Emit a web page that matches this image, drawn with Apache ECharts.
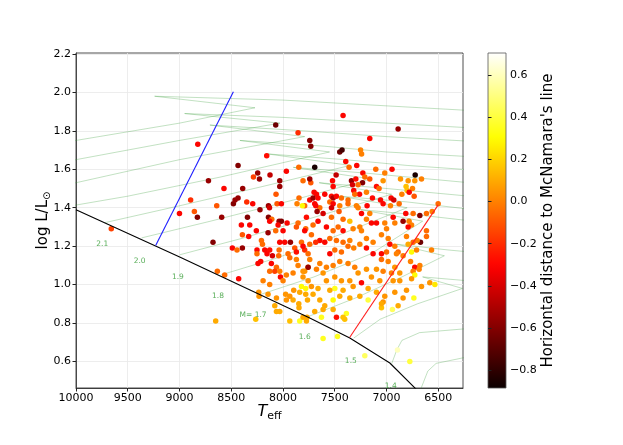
<!DOCTYPE html>
<html>
<head>
<meta charset="utf-8">
<title>HR diagram</title>
<script src="https://cdn.jsdelivr.net/npm/echarts@6/dist/echarts.min.js"></script>
<style>
  html, body { margin: 0; padding: 0; background: #fff; }
  #chart { width: 623px; height: 445px; }
</style>
</head>
<body>
<div id="chart"></div>
<script>
// ---- ticks ----
var xTicks = [6500, 7000, 7500, 8000, 8500, 9000, 9500, 10000];
var yTicks = [0.6, 0.8, 1.0, 1.2, 1.4, 1.6, 1.8, 2.0, 2.2];
var cbTicks = [-0.8, -0.6, -0.4, -0.2, 0.0, 0.2, 0.4, 0.6];

// ---- stars : Teff, log L, horizontal distance ----
var teff = [8823,8157,8070,8434,8244,8285,8227,8125,8720,8570,8389,8067,8892,8640,8479,8434,8463,8350,8292,8222,
  8140,8130,9000,8856,8827,8592,8343,8140,8108,9659,7419,6887,7854,7741,7731,7161,7451,7429,7250,7240,
  7393,7287,7361,7693,7847,7967,8031,8031,7486,7521,7228,7209,7161,7103,7016,6946,6722,7032,6864,6726,
  6661,7338,7296,7231,7328,7274,7316,7260,7193,7096,7071,6810,6800,6748,6851,6732,6955,6929,7515,7731,
  7699,7676,7596,7531,7515,7483,7845,7741,7709,7371,7135,7057,6780,7032,6877,6500,6558,6813,6742,6935,
  6919,7016,6781,6839,6757,6790,6999,6613,6613,6671,6703,6742,6790,6757,6709,6564,6919,6967,6887,6999,
  6839,7048,6983,6767,6677,6726,6742,6684,6726,6757,6919,6871,7032,6951,6935,6871,6581,6532,6661,6919,
  6806,7016,6839,6735,7032,6887,6942,7048,6774,7773,7612,7473,7209,6893,8057,8015,7864,7790,8037,8015,
  7960,8047,7854,7870,8402,8321,8128,7780,8392,8331,8257,8144,8070,7999,8208,8198,8676,8489,8392,8444,
  8251,8176,8128,8037,8031,7983,7928,7886,7870,7790,7757,8251,8154,8102,8041,7951,7934,7870,7741,8215,
  8241,8112,7854,7806,8063,8079,8128,8031,8024,7999,7967,7902,7790,7757,8634,8563,8428,8192,8128,8234,
  8231,8144,8063,7967,7974,8079,8063,8031,7902,7838,7847,7821,7780,7757,7780,7763,7896,7934,7934,7838,
  7767,8263,8650,7845,7812,7693,7644,7435,7306,7371,7290,7187,7547,7515,7451,6790,7806,7741,7661,7683,
  7612,7670,7531,7458,7274,7161,7241,6961,6677,6613,7531,7419,7354,7193,7145,7096,7257,7322,7241,7773,
  7709,7661,7580,7515,7467,7419,7790,7725,7644,7596,7547,7483,7419,7354,7193,7129,7048,6983,6806,7821,
  7741,7683,7806,7547,7499,7435,7371,7316,7257,7193,7129,7048,6903,7644,7757,7676,7580,7515,7451,7371,
  7306,7274,7241,7193,7145,7096,7064,7806,7725,7612,7580,7499,7435,7354,7322,7419,7499,7547,7661,7177,
  7096,7048,7177,7257,7354,7451,7515,7644,7709,7596,7515,7387,7419,7612,7693,7483,7806,7628,7403];
var logL = [1.73,1.67,1.83,1.62,1.58,1.56,1.55,1.57,1.54,1.50,1.50,1.47,1.44,1.41,1.42,1.45,1.44,1.43,1.42,1.39,
  1.41,1.40,1.37,1.38,1.35,1.35,1.35,1.35,1.34,1.29,1.88,1.81,1.79,1.75,1.72,1.76,1.69,1.70,1.70,1.68,
  1.64,1.62,1.61,1.61,1.61,1.59,1.54,1.51,1.57,1.54,1.58,1.56,1.55,1.60,1.58,1.60,1.57,1.54,1.55,1.54,
  1.55,1.54,1.55,1.53,1.52,1.52,1.49,1.47,1.48,1.51,1.50,1.51,1.49,1.50,1.47,1.46,1.45,1.44,1.51,1.53,
  1.48,1.47,1.47,1.46,1.45,1.46,1.45,1.44,1.45,1.44,1.45,1.44,1.48,1.42,1.42,1.42,1.38,1.37,1.37,1.35,
  1.32,1.32,1.33,1.33,1.31,1.30,1.29,1.28,1.25,1.22,1.23,1.22,1.21,1.17,1.18,1.18,1.20,1.21,1.17,1.17,
  1.15,1.13,1.12,1.12,1.10,1.09,1.07,1.08,1.05,1.03,1.09,1.06,1.07,1.06,1.02,1.02,1.01,1.00,0.99,0.96,
  0.97,0.94,0.93,0.93,0.91,0.89,0.87,0.88,0.60,0.81,0.72,0.73,0.63,0.66,1.42,1.42,1.42,1.41,1.33,1.33,
  1.32,1.31,1.32,1.30,1.31,1.31,1.33,1.29,1.26,1.25,1.28,1.27,1.28,1.28,1.23,1.21,1.22,1.19,1.19,1.18,
  1.18,1.18,1.18,1.18,1.22,1.22,1.22,1.19,1.17,1.18,1.16,1.16,1.16,1.15,1.15,1.16,1.14,1.13,1.13,1.12,
  1.11,1.11,1.10,1.07,1.09,1.07,1.07,1.07,1.04,1.02,1.05,1.06,1.07,1.09,1.07,1.05,1.03,1.02,1.00,0.96,
  0.94,0.95,0.93,0.92,0.95,0.89,0.86,0.86,0.92,0.96,0.90,0.99,0.98,1.02,0.95,0.92,0.97,0.94,0.81,0.81,
  0.83,0.82,0.81,0.88,1.41,1.42,1.40,1.45,1.47,1.42,1.41,1.41,1.43,1.42,1.41,1.54,1.54,1.55,1.45,1.41,
  1.37,1.38,1.40,1.38,1.40,1.37,1.37,1.41,1.36,1.37,1.35,1.34,1.33,1.34,1.32,1.32,1.30,1.29,1.28,1.35,
  1.31,1.33,1.30,1.28,1.30,1.28,1.28,1.26,1.23,1.22,1.24,1.23,1.22,1.23,1.24,1.22,1.26,1.24,1.25,1.22,
  1.21,1.22,1.20,1.16,1.18,1.17,1.20,1.19,1.21,1.19,1.16,1.16,1.16,1.11,1.09,1.08,1.09,1.10,1.12,1.11,
  1.09,1.06,1.01,1.08,1.04,1.08,1.02,1.04,0.99,1.06,1.02,1.04,1.02,1.02,0.99,0.97,0.98,0.97,0.98,0.98,
  0.96,0.90,0.92,0.94,0.93,0.94,0.92,0.92,0.95,0.89,0.87,0.85,0.83,0.87,0.86,0.83,0.83,0.83,0.82];
var dist = [-0.30,-0.28,-0.65,-0.60,-0.55,-0.15,-0.55,-0.45,-0.55,-0.30,-0.55,-0.10,-0.20,-0.10,-0.60,-0.55,-0.55,-0.20,-0.30,-0.55,
  -0.55,-0.40,-0.30,-0.10,-0.60,-0.55,-0.60,-0.60,-0.05,-0.15,-0.30,-0.55,-0.20,-0.60,-0.60,-0.30,-0.65,-0.75,0.00,0.00,
  -0.30,-0.30,-0.05,-0.85,-0.05,-0.30,-0.55,-0.55,-0.45,-0.30,-0.30,-0.05,-0.10,-0.05,0.00,-0.30,-0.85,0.05,0.05,0.05,
  0.00,-0.55,-0.28,-0.60,-0.40,-0.05,-0.30,-0.30,0.00,-0.28,-0.05,0.15,0.15,0.00,0.00,-0.10,-0.30,-0.40,-0.30,-0.10,
  -0.30,-0.30,-0.30,-0.28,-0.50,-0.30,-0.05,-0.30,-0.55,-0.05,-0.28,-0.30,-0.30,-0.30,-0.05,-0.05,0.00,-0.30,-0.05,-0.30,
  0.00,0.00,0.00,-0.55,0.00,-0.30,0.00,-0.05,-0.05,-0.65,0.00,-0.05,0.10,0.30,0.00,0.00,0.00,-0.28,-0.05,-0.05,
  0.00,-0.05,0.00,0.00,0.00,-0.30,0.00,0.00,0.30,0.05,0.05,0.05,0.00,0.00,0.05,0.05,0.05,0.25,0.05,0.05,
  0.05,0.05,0.05,0.35,0.05,0.10,0.45,0.15,0.40,0.10,0.35,0.35,0.45,0.60,-0.10,-0.30,0.00,-0.05,-0.55,-0.60,
  -0.30,-0.30,-0.05,-0.10,-0.30,-0.30,-0.30,-0.05,-0.10,-0.30,-0.30,-0.55,-0.05,-0.30,-0.05,-0.05,-0.60,-0.30,-0.55,-0.05,
  -0.30,-0.30,-0.28,-0.05,-0.30,-0.30,-0.55,-0.10,-0.28,-0.20,-0.05,-0.05,-0.30,-0.40,-0.05,-0.05,-0.05,0.00,0.00,-0.30,
  -0.30,-0.30,0.00,0.05,-0.05,-0.15,-0.05,0.00,-0.30,0.00,0.00,0.00,0.05,0.05,-0.05,-0.05,-0.30,0.00,0.00,0.05,
  0.05,0.05,0.05,0.05,0.05,0.10,0.10,0.10,0.10,0.10,0.10,0.30,0.30,0.05,0.10,0.10,0.05,0.05,0.15,0.35,
  0.10,0.15,0.10,0.10,0.30,-0.30,-0.05,-0.05,-0.05,-0.05,0.00,-0.30,-0.05,-0.30,0.00,0.05,-0.05,-0.55,-0.30,-0.30,
  -0.40,-0.55,-0.40,-0.10,0.00,0.00,-0.30,0.00,-0.60,-0.05,-0.05,-0.05,0.15,0.00,-0.30,-0.30,0.00,0.00,0.00,-0.28,
  -0.05,-0.30,-0.30,-0.05,-0.05,-0.28,-0.30,-0.05,-0.30,-0.30,-0.05,-0.05,-0.05,0.00,0.00,0.00,0.00,0.00,0.00,-0.05,
  -0.05,-0.20,-0.30,-0.30,-0.05,-0.05,-0.05,0.00,0.00,-0.28,-0.30,-0.30,0.00,0.00,-0.55,0.00,0.00,0.00,0.00,0.00,
  0.00,0.05,-0.30,0.05,0.05,0.05,0.05,0.05,0.05,0.05,0.05,0.05,0.05,0.05,0.05,0.10,0.35,0.10,0.10,0.10,
  0.10,0.10,0.40,0.10,0.10,0.10,0.30,0.10,0.10,0.10,0.10,0.35,0.15,0.10,0.10,-0.28,0.10,0.35,0.15];

// ---- reference lines ----
var zams = [[10000,1.389],[8998,1.144],[7741,0.826],[7354,0.722],[6967,0.592],[6706,0.452]];
var blueEdge = [[9230,1.203],[8479,2.004]];
var redEdge = [[7354,0.726],[6500,1.415]];

// ---- evolutionary tracks (Teff, log L) ----
var track13 = [[6680,0.44],[6600,0.55],[6520,0.59],[6250,0.62]];
var track14 = [[6948,0.59],[6900,0.66],[6850,0.71],[6680,0.75],[6240,0.77]];
var track15 = [[7315,0.722],[7060,0.82],[6700,0.90],[6265,0.98],[6650,1.04],[6000,1.01]];
var track16 = [[7759,0.833],[7300,0.93],[6850,1.04],[6440,1.15],[6900,1.21],[6400,1.18],[6000,1.16]];
var track17 = [[8204,0.951],[7700,1.04],[7150,1.16],[6650,1.33],[7250,1.39],[6650,1.36],[6000,1.32]];
var track18 = [[8601,1.05],[8050,1.14],[7450,1.26],[6800,1.40],[7450,1.46],[6800,1.43],[6000,1.38]];
var track19 = [[8998,1.155],[8400,1.24],[7700,1.35],[6950,1.47],[7650,1.53],[7000,1.50],[6000,1.45]];
var track20 = [[9366,1.243],[8700,1.33],[7900,1.44],[7150,1.55],[7900,1.61],[7200,1.58],[6600,1.55],[6000,1.52]];
var track21 = [[9724,1.322],[9000,1.41],[8200,1.51],[7350,1.62],[8150,1.68],[7400,1.65],[6800,1.62],[6000,1.59]];
var track22 = [[10150,1.40],[9500,1.46],[8600,1.56],[7550,1.69],[8416,1.75],[7600,1.72],[7000,1.69],[6000,1.66]];
var track23 = [[10500,1.48],[10000,1.53],[9000,1.65],[7790,1.77],[8706,1.83],[7800,1.80],[7000,1.77],[6000,1.74]];
var track24 = [[10850,1.56],[10000,1.65],[9000,1.75],[8030,1.84],[8950,1.89],[8000,1.87],[7000,1.84],[6000,1.81]];
var track25 = [[11200,1.64],[10000,1.75],[9000,1.84],[8270,1.92],[9240,1.98],[8000,1.96],[7000,1.93],[6000,1.90]];

// ---- track mass labels ----
var massNames = ['2.1', '2.0', '1.9', '1.8', 'M= 1.7', '1.6', '1.5', '1.4'];
var massT = [9746, 9385, 9015, 8628, 8289, 7789, 7344, 6958];
var massL = [1.21, 1.125, 1.037, 0.938, 0.839, 0.729, 0.604, 0.473];

var cbMin = -0.885, cbMax = 0.705;

/**
 * matplotlib 'hot' colour map
 */
function hot(t){
    var r = t < 0.365 ? 0.0416 + 0.9584 * t / 0.365 : 1;
    var g = t < 0.365 ? 0 : (t < 0.746 ? (t - 0.365) / 0.381 : 1);
    var b = t < 0.746 ? 0 : (t - 0.746) / 0.254;
    return 'rgb(' + Math.round(r * 255) + ',' + Math.round(g * 255) + ',' + Math.round(b * 255) + ')';
}

var hotColors = [], cbStops = [];
for (var i = 0; i <= 40; i++) {
    hotColors.push(hot(i / 40));
    cbStops.push({offset: 1 - i / 40, color: hot(i / 40)});
}

function minus(v){
    var s = Math.abs(v).toFixed(1);
    return v < -1e-9 ? '\u2212' + s : s;
}

var tracks = [track13, track14, track15, track16, track17, track18, track19, track20, track21, track22, track23, track24, track25];

var series = [];
tracks.forEach(function(tr){
    series.push({
        type: 'line', xAxisIndex: 0, yAxisIndex: 0,
        data: tr, showSymbol: false, symbol: 'none', silent: true, z: 1,
        lineStyle: {color: 'rgba(60,160,60,0.45)', width: 0.7}
    });
});

var stars = [];
for (var k = 0; k < teff.length; k++) {
    stars.push([teff[k], logL[k], dist[k]]);
}
var starIndex = series.length;
series.push({
    type: 'scatter', xAxisIndex: 0, yAxisIndex: 0,
    data: stars, symbolSize: 5.5, z: 3,
    itemStyle: {opacity: 1}
});

series.push({type: 'line', data: zams, showSymbol: false, symbol: 'none', z: 4,
    lineStyle: {color: '#000', width: 1.1}});
series.push({type: 'line', data: blueEdge, showSymbol: false, symbol: 'none', z: 4,
    lineStyle: {color: '#1f1fff', width: 1.1}});
series.push({type: 'line', data: redEdge, showSymbol: false, symbol: 'none', z: 4,
    lineStyle: {color: '#ff2020', width: 1.1}});

var massData = massNames.map(function(n, j){
    return {name: n, value: [massT[j], massL[j]]};
});
series.push({
    type: 'scatter', data: massData, symbolSize: 1, z: 5, silent: true,
    itemStyle: {color: 'rgba(0,0,0,0)'},
    label: {show: true, position: 'inside', formatter: '{b}', color: '#2f9a2f',
        fontSize: 7.5, fontFamily: 'DejaVu Sans'}
});

var chart = echarts.init(document.getElementById('chart'), null, {renderer: 'canvas'});

chart.setOption({
    animation: false,
    backgroundColor: '#fff',
    textStyle: {fontFamily: 'DejaVu Sans'},
    grid: [
        {left: 76, top: 53, width: 387, height: 335, show: true,
            borderColor: '#222', borderWidth: 0.8},
        {left: 488, top: 53, width: 18, height: 335, show: true,
            borderColor: '#555', borderWidth: 0.8,
            backgroundColor: new echarts.graphic.LinearGradient(0, 0, 0, 1, cbStops)}
    ],
    xAxis: [{
        type: 'value', gridIndex: 0, inverse: true, min: 6260, max: 10000,
        axisLine: {show: true, onZero: false, lineStyle: {color: '#222', width: 0.8}},
        axisTick: {show: true, length: 3.5, customValues: xTicks, lineStyle: {color: '#222'}},
        axisLabel: {customValues: xTicks, color: '#000', fontSize: 11, margin: 5,
            formatter: function(v){ return String(v); }},
        splitLine: {show: true, lineStyle: {color: '#e8e8e8', width: 0.8}},
        name: '{i|T}{s|eff}', nameLocation: 'middle', nameGap: 14, nameMoveOverlap: false,
        nameTextStyle: {color: '#000', rich: {
            i: {fontSize: 16, fontStyle: 'italic', color: '#000', fontFamily: 'DejaVu Sans'},
            s: {fontSize: 11, color: '#000', padding: [9, 0, 0, 0], fontFamily: 'DejaVu Sans'}
        }}
    }, {
        type: 'value', gridIndex: 1, min: 0, max: 1, show: false
    }],
    yAxis: [{
        type: 'value', gridIndex: 0, min: 0.462, max: 2.205,
        axisLine: {show: true, onZero: false, lineStyle: {color: '#222', width: 0.8}},
        axisTick: {show: true, length: 3.5, customValues: yTicks, lineStyle: {color: '#222'}},
        axisLabel: {customValues: yTicks, color: '#000', fontSize: 11, margin: 5,
            formatter: function(v){ return v.toFixed(1); }},
        splitLine: {show: true, lineStyle: {color: '#e8e8e8', width: 0.8}},
        name: '{n|log L/L}{s|\u2299}', nameLocation: 'middle', nameGap: 24, nameMoveOverlap: false,
        nameTextStyle: {color: '#000', rich: {
            n: {fontSize: 15, color: '#000', fontFamily: 'DejaVu Sans'},
            s: {fontSize: 10, color: '#000', padding: [8, 0, 0, 0], fontFamily: 'DejaVu Sans'}
        }}
    }, {
        type: 'value', gridIndex: 1, position: 'right', min: cbMin, max: cbMax,
        axisLine: {show: false},
        axisTick: {show: true, length: 3.5, customValues: cbTicks, lineStyle: {color: '#222'}},
        axisLabel: {customValues: cbTicks, color: '#000', fontSize: 11, margin: 4,
            formatter: minus},
        splitLine: {show: false},
        name: "Horizontal distance to McNamara's line", nameLocation: 'middle',
        nameRotate: 90, nameGap: 35,
        nameTextStyle: {color: '#000', fontSize: 15}
    }],
    visualMap: {
        type: 'continuous', show: false, seriesIndex: starIndex, dimension: 2,
        min: cbMin, max: cbMax, inRange: {color: hotColors}
    },
    series: series
});
</script>
</body>
</html>
